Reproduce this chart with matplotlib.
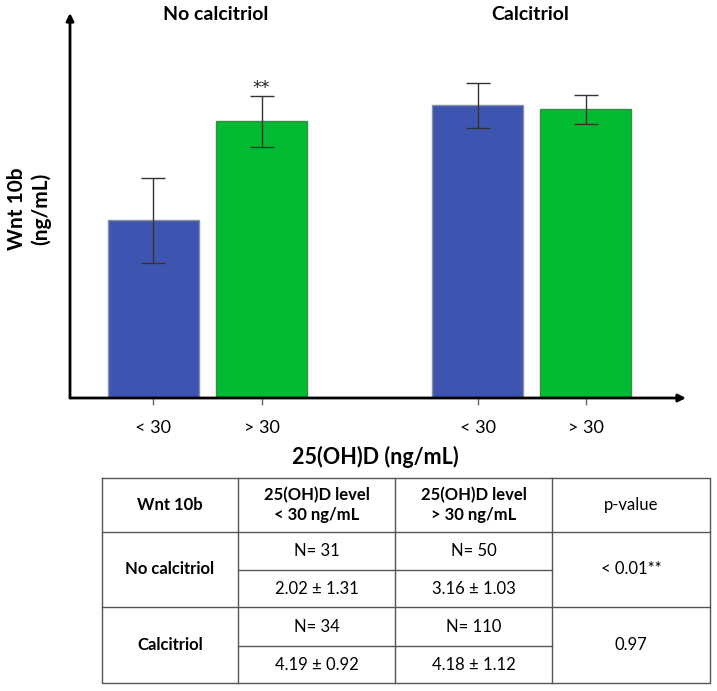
import matplotlib
matplotlib.use("Agg")
import matplotlib.pyplot as plt

plt.rcParams['font.family'] = ['Lato', 'DejaVu Sans']

# ---- data (bar heights/errors, arbitrary units) ----
groups = ["No calcitriol", "Calcitriol"]
tick_labels = ["< 30", "> 30", "< 30", "> 30"]
bar_values = [1.78, 2.77, 2.93, 2.89]
bar_errors = [0.425, 0.255, 0.225, 0.145]
sig_marks = ["", "**", "", ""]

table_header = ["Wnt 10b", "25(OH)D level\n< 30 ng/mL", "25(OH)D level\n> 30 ng/mL", "p-value"]
row_labels = ["No calcitriol", "Calcitriol"]
n_low = ["N= 31", "N= 34"]
n_high = ["N= 50", "N= 110"]
mean_low = ["2.02 \u00b1 1.31", "4.19 \u00b1 0.92"]
mean_high = ["3.16 \u00b1 1.03", "4.18 \u00b1 1.12"]
p_values = ["< 0.01**", "0.97"]

# ---- figure ----
W, H = 717, 691
fig = plt.figure(figsize=(W / 100, H / 100), dpi=100)

def fx(px):
    return px / W

def fy(py):
    return 1 - py / H

# chart axes (pixel box: x 70..686, y 13..398)
ax = fig.add_axes([fx(70), fy(398), fx(686) - fx(70), fy(13) - fy(398)])
positions = [0, 1, 3, 4]
colors = ["#3D55B0", "#03BB30", "#3D55B0", "#03BB30"]
edges = ["#8a8fa8", "#3a8a45", "#8a8fa8", "#3a8a45"]
ax.bar(positions, bar_values, width=0.84, color=colors, edgecolor=edges, linewidth=1.0, zorder=2)
ax.errorbar(positions, bar_values, yerr=bar_errors, fmt='none', ecolor='#333333',
            elinewidth=1.0, capsize=8.5, capthick=1.0, zorder=3)
for p, v, e, s in zip(positions, bar_values, bar_errors, sig_marks):
    if s:
        ax.text(p, v + e + 0.07, s, ha='center', va='center', fontsize=12.5, color='#222',
                family=['DejaVu Sans'])

ax.set_xlim(-0.773, 4.93)
ax.set_ylim(0, 3.85)
for sp in ax.spines.values():
    sp.set_visible(False)
ax.set_yticks([])
ax.set_xticks(positions)
ax.set_xticklabels(tick_labels, fontsize=13)
ax.tick_params(axis='x', direction='out', length=5, width=1, color='#666', pad=11)

# axis arrows
ax.annotate('', xy=(0, 1.0), xytext=(0, 0), xycoords='axes fraction',
            arrowprops=dict(arrowstyle='-|>', lw=2.0, color='black', mutation_scale=11,
                            shrinkA=0, shrinkB=0))
ax.annotate('', xy=(1.0, 0), xytext=(0, 0), xycoords='axes fraction',
            arrowprops=dict(arrowstyle='-|>', lw=2.0, color='black', mutation_scale=11,
                            shrinkA=0, shrinkB=0))

# group titles
fig.text(fx(216), fy(15), groups[0], ha='center', va='center', fontsize=14, fontweight='bold')
fig.text(fx(530), fy(15), groups[1], ha='center', va='center', fontsize=14, fontweight='bold')

# axis labels
fig.text(fx(29), fy(209), "Wnt 10b\n(ng/mL)", ha='center', va='center', rotation=90,
         fontsize=15, fontweight='bold', linespacing=1.25)
fig.text(fx(375), fy(457), "25(OH)D (ng/mL)", ha='center', va='center', fontsize=15.5,
         fontweight='bold')

# ---- table ----
tax = fig.add_axes([0, 0, 1, 1])
tax.set_xlim(0, W)
tax.set_ylim(H, 0)
tax.axis('off')

cols = [102, 238, 395, 552, 710]
rows = [478, 532, 570, 607, 646, 683]
lc = '#555555'
lw = 1.0
fs = 12
# outer border
tax.plot([cols[0], cols[-1], cols[-1], cols[0], cols[0]],
         [rows[0], rows[0], rows[-1], rows[-1], rows[0]], color=lc, lw=lw)
# vertical lines
for c in cols[1:-1]:
    tax.plot([c, c], [rows[0], rows[-1]], color=lc, lw=lw)
# full horizontal lines
for r in (rows[1], rows[3]):
    tax.plot([cols[0], cols[-1]], [r, r], color=lc, lw=lw)
# partial horizontal lines
for r in (rows[2], rows[4]):
    tax.plot([cols[1], cols[3]], [r, r], color=lc, lw=lw)

def ccx(i):
    return (cols[i] + cols[i + 1]) / 2

hy = (rows[0] + rows[1]) / 2
tax.text(ccx(0), hy, table_header[0], ha='center', va='center', fontsize=fs, fontweight='bold')
tax.text(ccx(1), hy, table_header[1], ha='center', va='center', fontsize=fs, fontweight='bold',
         linespacing=1.25)
tax.text(ccx(2), hy, table_header[2], ha='center', va='center', fontsize=fs, fontweight='bold',
         linespacing=1.25)
tax.text(ccx(3), hy, table_header[3], ha='center', va='center', fontsize=fs)

for k in range(2):
    r0 = rows[1 + 2 * k]
    r1 = rows[2 + 2 * k]
    r2 = rows[3 + 2 * k]
    mid = (r0 + r2) / 2
    tax.text(ccx(0), mid, row_labels[k], ha='center', va='center', fontsize=fs, fontweight='bold')
    tax.text(ccx(1), (r0 + r1) / 2, n_low[k], ha='center', va='center', fontsize=fs)
    tax.text(ccx(2), (r0 + r1) / 2, n_high[k], ha='center', va='center', fontsize=fs)
    tax.text(ccx(1), (r1 + r2) / 2, mean_low[k], ha='center', va='center', fontsize=fs)
    tax.text(ccx(2), (r1 + r2) / 2, mean_high[k], ha='center', va='center', fontsize=fs)
    tax.text(ccx(3), mid, p_values[k], ha='center', va='center', fontsize=fs)

fig.savefig("out.png", dpi=100)
